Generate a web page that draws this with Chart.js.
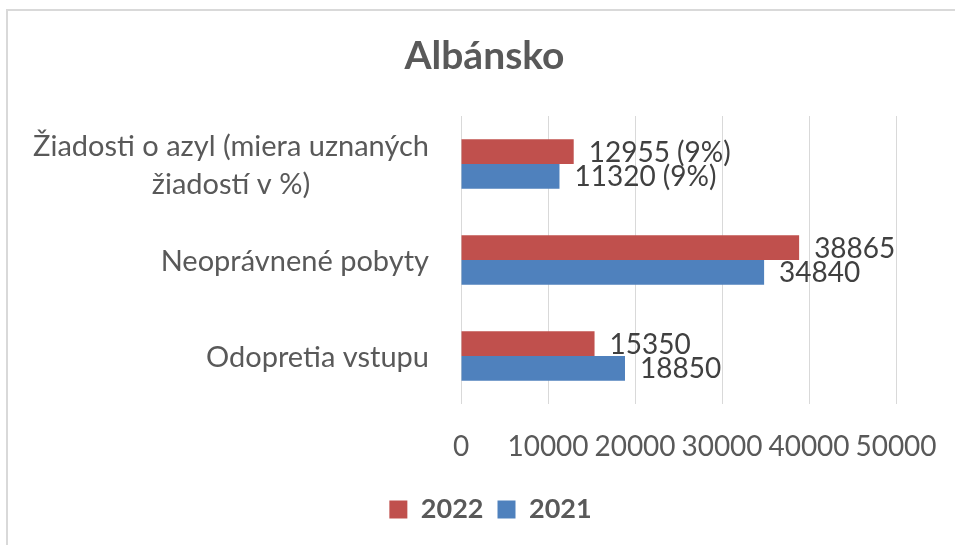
<!DOCTYPE html>
<html>
<head>
<meta charset="utf-8">
<script src="https://cdn.jsdelivr.net/npm/chart.js@4.4.1/dist/chart.umd.min.js"></script>
<style>
  html, body { margin: 0; padding: 0; background: #ffffff; overflow: hidden; }
  #frame { position: absolute; left: 6px; top: 9px; width: 1200px; height: 800px;
           border-left: 2px solid #D9D9D9; border-top: 2px solid #D9D9D9; z-index: 0; }
  #c { position: absolute; left: 0; top: 0; z-index: 1; }
</style>
</head>
<body>
<div id="frame"></div>
<canvas id="c" width="955" height="545"></canvas>
<script>
// ---- data ----
const chartTitle = "Albánsko";
const categories = [["Žiadosti o azyl (miera uznaných", "žiadostí v %)"], "Neoprávnené pobyty", "Odopretia vstupu"];
const seriesNames = ["2022", "2021"];
const values2022 = [12955, 38865, 15350];
const values2021 = [11320, 34840, 18850];
const rates2022 = [9, null, null];   // miera uznaných žiadostí v %
const rates2021 = [9, null, null];
const xTickValues = [0, 10000, 20000, 30000, 40000, 50000];

// ---- styles ----
const FONT = "Lato";
const RED = "#C0504D";
const BLUE = "#4F81BD";
const TEXT = "#595959";
const LABEL_TEXT = "#404040";

const rates = [rates2022, rates2021];

const dataLabelsPlugin = {
  id: "dataLabels",
  afterDatasetsDraw(chart) {
    const ctx = chart.ctx;
    ctx.save();
    ctx.font = "28px " + FONT;
    ctx.fillStyle = LABEL_TEXT;
    ctx.textAlign = "left";
    ctx.textBaseline = "middle";
    chart.data.datasets.forEach((ds, di) => {
      const meta = chart.getDatasetMeta(di);
      meta.data.forEach((el, i) => {
        const r = rates[di][i];
        const txt = String(ds.data[i]) + (r !== null ? " (" + r + "%)" : "");
        ctx.fillText(txt, el.x + 15, el.y + 1);
      });
    });
    ctx.restore();
  }
};

const catLabelsPlugin = {
  id: "catLabels",
  afterDraw(chart) {
    const ctx = chart.ctx;
    const ys = chart.scales.y;
    ctx.save();
    ctx.font = "29px " + FONT;
    ctx.fillStyle = TEXT;
    ctx.textAlign = "center";
    ctx.textBaseline = "middle";
    const rightX = 429;
    const lh = 38;
    chart.data.labels.forEach((lab, i) => {
      const lines = Array.isArray(lab) ? lab : [lab];
      const w = Math.max(...lines.map(l => ctx.measureText(l).width));
      const cx = rightX - w / 2;
      const cy = ys.getPixelForTick(i) + 2;
      lines.forEach((l, j) => {
        ctx.fillText(l, cx, cy + (j - (lines.length - 1) / 2) * lh);
      });
    });
    ctx.restore();
  }
};

// nudge the legend row to match the reference's horizontal placement
const legendShiftPlugin = {
  id: "legendShift",
  afterLayout(chart) {
    if (chart.legend) { chart.legend.left += 6; chart.legend.right += 6; }
  }
};

const PAD_L = 44, PAD_R = 30;

new Chart(document.getElementById("c"), {
  type: "bar",
  data: {
    labels: categories,
    datasets: [
      { label: seriesNames[0], data: values2022, backgroundColor: RED, borderWidth: 0 },
      { label: seriesNames[1], data: values2021, backgroundColor: BLUE, borderWidth: 0 }
    ]
  },
  options: {
    indexAxis: "y",
    responsive: false,
    animation: false,
    devicePixelRatio: 1,
    layout: { padding: { left: PAD_L, right: PAD_R, top: 0, bottom: 12 } },
    datasets: { bar: { categoryPercentage: 0.515, barPercentage: 1.0 } },
    scales: {
      x: {
        type: "linear",
        position: "bottom",
        min: 0,
        max: 50000,
        afterBuildTicks: s => { s.ticks = xTickValues.map(v => ({ value: v })); },
        grid: { color: "#D9D9D9", lineWidth: 1, drawTicks: false },
        border: { display: false },
        ticks: { color: TEXT, font: { family: FONT, size: 28 }, padding: 26, maxRotation: 0, autoSkip: false,
                 callback: v => String(v) },
        afterFit: s => { s.height = 78; s.paddingLeft = 0; s.paddingRight = 0; }
      },
      y: {
        type: "category",
        position: "left",
        grid: { display: false, drawTicks: false },
        border: { display: false },
        ticks: { display: false },
        afterFit: s => { s.width = 461 - PAD_L; }
      },
      yRight: {
        type: "linear",
        position: "right",
        display: true,
        grid: { display: false, drawTicks: false },
        border: { display: false },
        ticks: { display: false },
        afterFit: s => { s.width = 59 - PAD_R; }
      }
    },
    plugins: {
      title: {
        display: true,
        text: chartTitle,
        color: TEXT,
        font: { family: FONT, size: 39, weight: "bold" },
        padding: { top: 33, bottom: 36.2 }
      },
      legend: {
        display: true,
        position: "bottom",
        labels: {
          color: TEXT,
          font: { family: FONT, size: 27, weight: "bold" },
          boxWidth: 18,
          boxHeight: 18,
          padding: 14
        }
      },
      tooltip: { enabled: false }
    }
  },
  plugins: [dataLabelsPlugin, catLabelsPlugin, legendShiftPlugin]
});
</script>
</body>
</html>
